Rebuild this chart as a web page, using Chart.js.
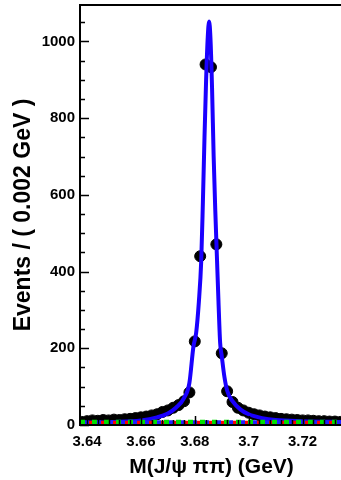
<!DOCTYPE html>
<html>
<head>
<meta charset="utf-8">
<script src="https://cdn.jsdelivr.net/npm/chart.js@4/dist/chart.umd.min.js"></script>
<style>
  html, body { margin: 0; padding: 0; background: #fff; overflow: hidden; }
  #wrap { width: 343px; height: 480px; }
</style>
</head>
<body>
<div id="wrap"><canvas id="mass-plot" width="343" height="480"></canvas></div>
<script>
// binned data, 0.002 GeV bins
var binCenters = [3.638, 3.640, 3.642, 3.644, 3.646, 3.648, 3.650, 3.652, 3.654, 3.656,
                  3.658, 3.660, 3.662, 3.664, 3.666, 3.668, 3.670, 3.672, 3.674, 3.676,
                  3.678, 3.680, 3.682, 3.684, 3.686, 3.688, 3.690, 3.692, 3.694, 3.696,
                  3.698, 3.700, 3.702, 3.704, 3.706, 3.708, 3.710, 3.712, 3.714, 3.716,
                  3.718, 3.720, 3.722, 3.724, 3.726, 3.728, 3.730, 3.732, 3.734];
var events = [8, 10, 12, 11, 13, 12, 14, 13, 15, 16,
              18, 20, 22, 25, 28, 34, 38, 45, 52, 62,
              85, 218, 440, 940, 933, 471, 187, 88, 60, 45,
              38, 32, 28, 25, 22, 20, 18, 16, 15, 14,
              13, 12, 12, 11, 10, 10, 9, 9, 8];

// total fit curve
var fitMass = [3.638, 3.650, 3.660, 3.666, 3.670, 3.673, 3.676, 3.678, 3.6795, 3.6805,
               3.6815, 3.6824, 3.6830, 3.6836, 3.6842, 3.6848, 3.6853, 3.6858, 3.6864, 3.6870,
               3.6876, 3.6882, 3.6888, 3.6894, 3.690, 3.691, 3.692, 3.694, 3.697, 3.700,
               3.705, 3.710, 3.720, 3.735];
var fitEvents = [6, 8, 12, 20, 30, 45, 70, 110, 205, 240,
                 320, 430, 580, 750, 900, 1010, 1052, 1010, 880, 700,
                 560, 440, 320, 215, 180, 125, 90, 62, 40, 28,
                 18, 13, 10, 8];

// background components (flat dashed lines)
var bkgRange = [3.6374, 3.735];
var bkgGreen = [8, 8];
var bkgRed = [6, 6];
var bkgBlue = [7, 7];

var xTicks = [3.64, 3.66, 3.68, 3.70, 3.72];
var yTicks = [0, 200, 400, 600, 800, 1000];

function pts(xs, ys) {
    return xs.map(function (x, i) { return { x: x, y: ys[i] }; });
}

var font = "'Liberation Sans', Arial, sans-serif";

// inward ticks + frame
var frameTicks = {
    id: "frameTicks",
    afterDatasetsDraw: function (chart) {
        var c = chart.ctx, a = chart.chartArea;
        var xs = chart.scales.x, ys = chart.scales.y;
        c.save();
        c.strokeStyle = "#000";
        c.lineWidth = 1.5;
        c.beginPath();
        for (var v = 0; v <= 1090; v += 50) {
            var py = Math.round(ys.getPixelForValue(v)) + 0.5;
            var len = (v % 200 === 0) ? 9 : 5;
            c.moveTo(a.left, py);
            c.lineTo(a.left + len, py);
        }
        for (var k = 0; k <= 30; k++) {
            var m = 3.64 + k * 0.004;
            if (m > xs.max) break;
            var px = Math.round(xs.getPixelForValue(m)) + 0.5;
            var l2 = (k % 5 === 0) ? 9 : 5;
            c.moveTo(px, a.bottom);
            c.lineTo(px, a.bottom - l2);
        }
        c.stroke();
        c.lineWidth = 2;
        c.beginPath();
        c.moveTo(a.right + 2, a.top);
        c.lineTo(a.left, a.top);
        c.lineTo(a.left, a.bottom);
        c.lineTo(a.right + 2, a.bottom);
        c.stroke();
        c.restore();
    }
};

var ctx = document.getElementById("mass-plot").getContext("2d");
var massChart = new Chart(ctx, {
    type: "scatter",
    data: {
        datasets: [{
                label: "data",
                data: pts(binCenters, events),
                backgroundColor: "#000",
                borderColor: "#000",
                pointRadius: 5.5,
                pointHoverRadius: 5.5,
                order: 6
            },
            {
                label: "fit",
                type: "line",
                data: pts(fitMass, fitEvents),
                borderColor: "#1a00ff",
                borderWidth: 4,
                pointRadius: 0,
                cubicInterpolationMode: "monotone",
                order: 5
            },
            {
                label: "bkg1",
                type: "line",
                data: pts(bkgRange, bkgRed),
                borderColor: "#ff0000",
                borderWidth: 4,
                borderDash: [3, 9],
                borderDashOffset: -9,
                pointRadius: 0,
                order: 3
            },
            {
                label: "bkg2",
                type: "line",
                data: pts(bkgRange, bkgBlue),
                borderColor: "#2020ff",
                borderWidth: 4,
                borderDash: [4, 8],
                borderDashOffset: -5,
                pointRadius: 0,
                order: 2
            },
            {
                label: "bkg3",
                type: "line",
                data: pts(bkgRange, bkgGreen),
                borderColor: "#00e000",
                borderWidth: 4.5,
                borderDash: [5, 7],
                borderDashOffset: 0,
                pointRadius: 0,
                order: 1
            }
        ]
    },
    options: {
        responsive: false,
        animation: false,
        events: [],
        layout: { autoPadding: false, padding: { top: 5, right: 0, left: 0, bottom: 0 } },
        plugins: {
            legend: { display: false },
            tooltip: { enabled: false }
        },
        scales: {
            x: {
                type: "linear",
                min: 3.6374,
                max: 3.735,
                grid: { display: false, drawTicks: false },
                border: { display: false },
                afterBuildTicks: function (s) {
                    s.ticks = xTicks.map(function (v) { return { value: v }; });
                },
                afterFit: function (s) {
                    s.height = 55;
                    s.paddingLeft = 0;
                    s.paddingRight = 0;
                },
                ticks: {
                    color: "#000",
                    padding: 8,
                    maxRotation: 0,
                    font: { family: font, size: 15, weight: "bold" },
                    callback: function (v) { return String(+v.toFixed(2)); }
                },
                title: {
                    display: true,
                    text: "M(J/\u03c8 \u03c0\u03c0) (GeV)",
                    color: "#000",
                    padding: { top: 4, bottom: 0 },
                    font: { family: font, size: 21, weight: "bold" }
                }
            },
            y: {
                min: 0,
                max: 1095,
                grid: { display: false, drawTicks: false },
                border: { display: false },
                afterBuildTicks: function (s) {
                    s.ticks = yTicks.map(function (v) { return { value: v }; });
                },
                afterFit: function (s) {
                    s.width = 80;
                    s.paddingTop = 0;
                    s.paddingBottom = 0;
                },
                ticks: {
                    color: "#000",
                    padding: 5,
                    font: { family: font, size: 15, weight: "bold" },
                    callback: function (v) { return String(v); }
                },
                title: {
                    display: true,
                    text: "Events / ( 0.002 GeV )",
                    color: "#000",
                    padding: { top: 10, bottom: 0 },
                    font: { family: font, size: 23, weight: "bold" }
                }
            }
        }
    },
    plugins: [frameTicks]
});
</script>
</body>
</html>
